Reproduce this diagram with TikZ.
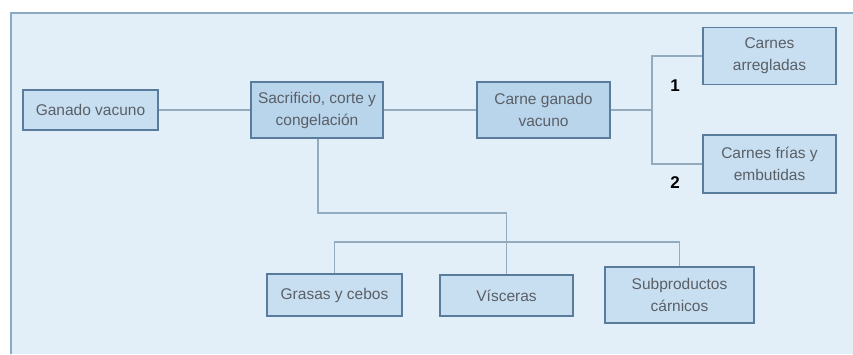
\documentclass[tikz,border=0pt]{standalone}
\usepackage{fontspec}
\setmainfont{Liberation Sans}
\definecolor{bgc}{HTML}{E3EFF8}
\definecolor{framec}{HTML}{8AAAC4}
\definecolor{boxc}{HTML}{C8DFF2}
\definecolor{boxd}{HTML}{B9D5EC}
\definecolor{edgec}{HTML}{5A7C9C}
\definecolor{linec}{HTML}{94AABD}
\definecolor{txtc}{HTML}{5A5F66}
\begin{document}
\begin{tikzpicture}[x=1pt,y=-1pt,
  boxn/.style={draw=edgec,line width=1.4pt,fill=boxc,rectangle,inner sep=0pt,align=center,
    text=txtc,font=\fontsize{15.5}{22}\selectfont},
  boxdark/.style={boxn,fill=boxd},
  conn/.style={draw=linec,line width=1.1pt},
  num/.style={font=\bfseries\fontsize{17}{19}\selectfont,text=black}]
\useasboundingbox (0,0) rectangle (853,354);
\fill[white] (0,0) rectangle (853,354);
\fill[bgc] (11,13) rectangle (853,354);
\draw[framec,line width=1.8pt] (11,354) -- (11,13) -- (853,13);

\node[boxn,minimum width=135pt,minimum height=40pt] (gv) at (90.5,110) {Ganado vacuno};
\node[boxdark,minimum width=132pt,minimum height=56pt] (sac) at (317,110) {Sacrificio, corte y\\congelación};
\node[boxdark,minimum width=133pt,minimum height=56pt] (carne) at (543.5,110) {Carne ganado\\vacuno};
\node[boxn,minimum width=133pt,minimum height=57pt] (arr) at (769.5,56) {Carnes\\arregladas};
\node[boxn,minimum width=133pt,minimum height=58pt] (frias) at (769.5,164) {Carnes frías y\\embutidas};
\node[boxn,minimum width=135pt,minimum height=42pt] (gra) at (334.5,295) {Grasas y cebos};
\node[boxn,minimum width=133pt,minimum height=41pt] (vis) at (506.5,295.5) {Vísceras};
\node[boxn,minimum width=149pt,minimum height=56pt] (sub) at (679.5,295) {Subproductos\\cárnicos};

\coordinate (jc) at (652,110);
\coordinate (j1) at (318,213);
\coordinate (j2) at (506.5,213);
\coordinate (bl) at (334.5,242);
\coordinate (br) at (679.5,242);

\draw[conn] (gv.east) -- (sac.west);
\draw[conn] (sac.east) -- (carne.west);
\draw[conn] (carne.east) -- (jc);
\draw[conn] (arr.west) -| (jc) |- (frias.west);
\draw[conn] (sac.south -| j1) -- (j1) -- (j2) -- (vis.north);
\draw[conn] (gra.north) -- (bl) -- (br) -- (sub.north);

\node[num] (n1) at (675,86) {1};
\node[num] (n2) at (675,183) {2};
\end{tikzpicture}
\end{document}
